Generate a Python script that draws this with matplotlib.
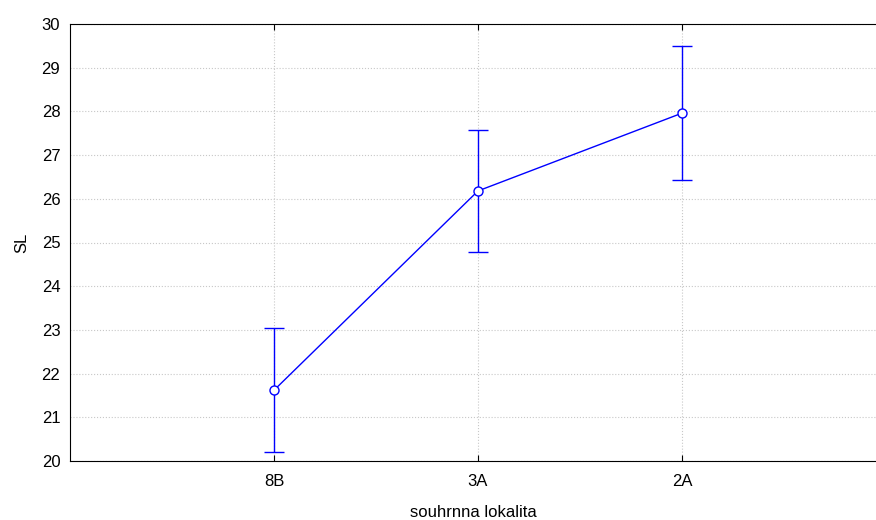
import matplotlib.pyplot as plt

plt.rcParams['font.family'] = ['Liberation Sans', 'DejaVu Sans']

lokality = ['8B', '3A', '2A']
prumer = [21.62, 26.18, 27.96]
horni = [23.04, 27.57, 29.50]
dolni = [20.20, 24.78, 26.43]

x = [1, 2, 3]
err_dolu = [p - d for p, d in zip(prumer, dolni)]
err_nahoru = [h - p for h, p in zip(horni, prumer)]

fig = plt.figure(figsize=(8.76, 5.2), dpi=100)
ax = fig.add_axes([70 / 876, 59 / 520, (876 - 70) / 876, (461 - 24) / 520])

ax.errorbar(x, prumer, yerr=[err_dolu, err_nahoru], color='#0000ff', lw=1.0,
            capsize=7.5, capthick=1.0, marker='o', ms=6.5, mfc='white', mec='#0000ff',
            mew=1.0, zorder=3)

ax.set_xlim(0, (876 - 70) / 204)
ax.set_ylim(20, 30)
ax.set_xticks(x)
ax.set_xticklabels(lokality)
ax.set_yticks(range(20, 31))
ax.grid(True, color='#c8c8c8', linestyle=':', linewidth=0.8)
ax.spines['right'].set_visible(False)
ax.tick_params(axis='x', direction='in', top=True, length=4, labelsize=12, pad=9)
ax.tick_params(axis='y', direction='in', length=0, labelsize=12, pad=7)
ax.set_xlabel('souhrnna lokalita', fontsize=12, labelpad=12)
ax.set_ylabel('SL', fontsize=12, labelpad=9)

fig.savefig('out.png', dpi=100)
